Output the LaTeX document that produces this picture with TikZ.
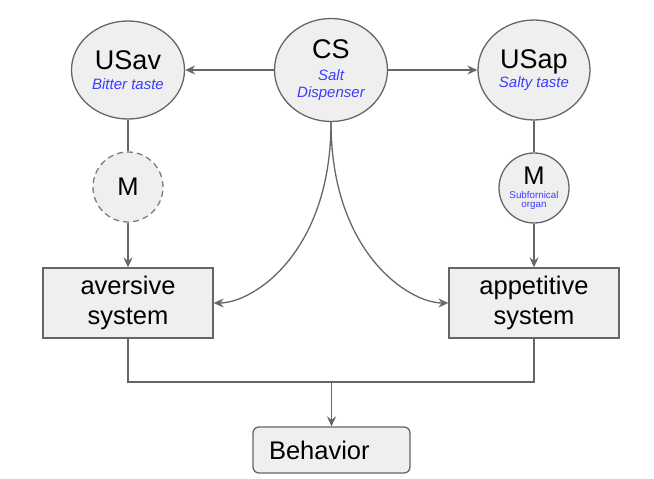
\documentclass[tikz,border=0pt]{standalone}
\usepackage{fontspec}
\setmainfont{Liberation Sans}
\usetikzlibrary{shapes.geometric,arrows.meta}
\definecolor{edgegray}{RGB}{102,102,102}
\definecolor{boxfill}{RGB}{239,239,239}
\definecolor{noteblue}{RGB}{60,60,255}
\newcommand{\bigfont}{\fontsize{27}{31}\selectfont}
\newcommand{\boxfont}{\fontsize{25.5}{29.5}\selectfont}
\newcommand{\notefont}{\fontsize{15}{17}\selectfont\itshape\color{noteblue}}
\newcommand{\tinyfont}{\fontsize{9.8}{11}\selectfont\color{noteblue}}

\begin{document}
\begin{tikzpicture}[x=1pt,y=1pt,
	bubble/.style={ellipse, draw=edgegray, fill=boxfill, line width=1.3pt, inner sep=0pt, align=center, font=\bigfont},
	mcircle/.style={circle, draw=edgegray, fill=boxfill, line width=1.3pt, inner sep=0pt, minimum size=70pt, align=center, font=\boxfont},
	sysbox/.style={rectangle, draw=edgegray, fill=boxfill, line width=1.3pt, minimum width=170pt, minimum height=70pt, align=center, font=\boxfont},
	link/.style={draw=edgegray, line width=1.3pt},
	arr/.style={link, -{Stealth[length=10pt,width=9pt,inset=3.5pt]}}]
	\useasboundingbox (0,0) rectangle (654,479);
	\draw (128,409) node[bubble, minimum width=113pt, minimum height=98pt](USav) {USav\\[-11pt]{\notefont Bitter taste}};
	\draw (331,409) node[bubble, minimum width=113pt, minimum height=103pt](CS) {CS\\[-9pt]{\notefont Salt}\\[-14pt]{\notefont Dispenser}};
	\draw (534,409) node[bubble, minimum width=112pt, minimum height=100pt](USap) {USap\\[-12pt]{\notefont Salty taste}};
	\draw (128,292) node[mcircle, dash pattern=on 6pt off 4pt, draw=edgegray!85](Mav) {M};
	\draw (534,291) node[mcircle](Map) {M\\[-15pt]{\tinyfont Subfornical}\\[-20.5pt]{\tinyfont organ}};
	\draw (128,176) node[sysbox](aversive) {aversive\\system};
	\draw (534,176) node[sysbox](appetitive) {appetitive\\system};
	\draw (331.5,29) node[rectangle, rounded corners=6pt, draw=edgegray, fill=boxfill, line width=1.3pt, minimum height=46pt, inner xsep=16pt, text width=125pt, align=left, font=\boxfont](behavior) {Behavior};
	\coordinate (join) at (331.5,97);
	\draw[arr] (CS) -- (USav);
	\draw[arr] (CS) -- (USap);
	\draw[link] (USav) -- (Mav);
	\draw[arr] (Mav) -- (aversive);
	\draw[link] (USap) -- (Map);
	\draw[arr] (Map) -- (appetitive);
	\draw[arr] (CS.south) .. controls +(0,-130) and +(40,0) .. (aversive.east);
	\draw[arr] (CS.south) .. controls +(0,-130) and +(-40,0) .. (appetitive.west);
	\draw[link] (aversive) |- (join) -| (appetitive);
	\draw[arr] (join) -- (behavior);
\end{tikzpicture}
\end{document}
